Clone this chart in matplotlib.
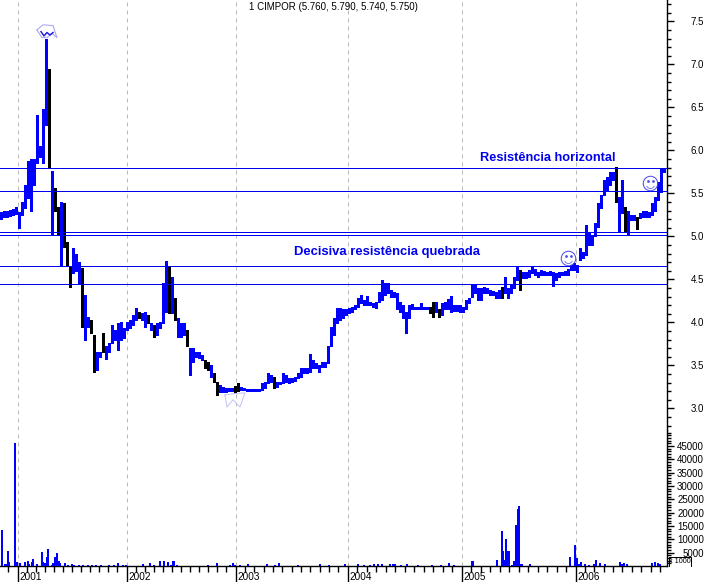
import numpy as np
import matplotlib
matplotlib.use("Agg")
import matplotlib.pyplot as plt
from matplotlib.path import Path

plt.rcParams['font.family'] = ['Liberation Sans', 'DejaVu Sans']

BLUE = '#0000f0'
title = '1 CIMPOR (5.760, 5.790, 5.740, 5.750)'
year_labels = ['2001', '2002', '2003', '2004', '2005', '2006']
year_sessions = [17.5, 126.5, 235.5, 347.5, 461.5, 575.5]
resistance_levels = [5.80, 5.53, 5.05, 5.01, 4.66, 4.44]

price_low = [
    5.20,5.23,5.22,5.24,5.25,5.26,5.10,5.25,5.33,5.45,
    5.30,5.60,5.85,5.92,5.85,6.30,5.80,5.03,5.30,5.03,
    4.65,4.88,4.65,4.41,4.57,4.60,4.46,3.95,3.80,3.94,
    3.88,3.42,3.45,3.60,3.65,3.57,3.65,3.76,3.80,3.68,
    3.80,3.82,3.91,3.93,3.97,4.03,4.05,4.03,3.95,3.99,
    3.91,3.83,3.85,3.93,3.99,4.12,4.11,4.11,4.03,3.83,
    3.83,3.85,3.72,3.39,3.54,3.60,3.59,3.56,3.47,3.45,
    3.37,3.31,3.16,3.19,3.19,3.19,3.20,3.20,3.18,3.20,
    3.21,3.21,3.20,3.20,3.20,3.20,3.20,3.21,3.24,3.30,
    3.31,3.24,3.25,3.28,3.30,3.31,3.30,3.31,3.32,3.35,
    3.37,3.41,3.41,3.42,3.47,3.47,3.42,3.48,3.48,3.53,
    3.72,3.85,3.99,4.03,4.05,4.09,4.11,4.12,4.15,4.18,
    4.22,4.20,4.20,4.20,4.18,4.17,4.24,4.26,4.32,4.34,
    4.30,4.30,4.15,4.12,4.05,3.88,4.05,4.15,4.15,4.15,
    4.16,4.15,4.15,4.11,4.06,4.12,4.06,4.08,4.15,4.15,
    4.12,4.13,4.13,4.12,4.12,4.15,4.22,4.30,4.34,4.26,
    4.26,4.34,4.34,4.32,4.32,4.28,4.28,4.28,4.34,4.28,
    4.34,4.40,4.49,4.38,4.52,4.52,4.53,4.57,4.55,4.53,
    4.55,4.55,4.55,4.55,4.42,4.49,4.53,4.55,4.55,4.55,
    4.61,4.61,4.58,4.73,4.75,4.78,4.90,4.90,5.00,5.11,
    5.33,5.48,5.54,5.60,5.66,5.40,5.05,5.27,5.05,5.03,
    5.19,5.19,5.08,5.21,5.22,5.22,5.22,5.25,5.30,5.42,
    5.52,5.75]
price_high = [
    5.28,5.30,5.29,5.31,5.32,5.34,5.28,5.40,5.60,5.88,
    5.90,5.90,6.41,6.05,6.48,7.30,6.95,5.76,5.56,5.34,
    5.40,5.39,4.93,4.65,4.87,4.80,4.70,4.63,4.32,4.06,
    4.03,3.85,3.65,3.65,3.88,3.72,3.76,3.97,3.91,3.99,
    4.00,3.93,4.00,4.03,4.09,4.17,4.12,4.11,4.12,4.09,
    3.99,3.97,3.99,4.00,4.46,4.71,4.65,4.53,4.28,4.05,
    3.99,3.99,3.91,3.70,3.70,3.65,3.65,3.62,3.56,3.54,
    3.50,3.41,3.31,3.27,3.25,3.24,3.24,3.24,3.26,3.30,
    3.25,3.24,3.23,3.23,3.23,3.22,3.22,3.30,3.31,3.41,
    3.39,3.37,3.31,3.31,3.41,3.39,3.35,3.35,3.37,3.41,
    3.47,3.47,3.47,3.63,3.56,3.53,3.50,3.54,3.54,3.72,
    3.95,4.05,4.17,4.17,4.15,4.15,4.17,4.18,4.20,4.28,
    4.32,4.26,4.31,4.24,4.22,4.24,4.35,4.49,4.46,4.46,
    4.38,4.35,4.34,4.24,4.20,4.12,4.20,4.21,4.18,4.18,
    4.22,4.18,4.18,4.18,4.24,4.24,4.15,4.22,4.24,4.27,
    4.31,4.20,4.20,4.20,4.18,4.26,4.28,4.44,4.44,4.40,
    4.40,4.41,4.40,4.38,4.36,4.35,4.38,4.41,4.53,4.40,
    4.44,4.53,4.66,4.61,4.58,4.58,4.61,4.66,4.62,4.58,
    4.61,4.60,4.58,4.60,4.58,4.57,4.58,4.58,4.60,4.62,
    4.67,4.69,4.67,4.87,4.82,5.13,5.04,5.00,5.16,5.39,
    5.48,5.66,5.69,5.75,5.75,5.81,5.46,5.66,5.34,5.30,
    5.25,5.25,5.22,5.27,5.30,5.30,5.28,5.39,5.46,5.63,
    5.79,5.80]
down_bars = [16,18,19,21,22,23,27,30,31,34,46,49,51,56,58,62,68,69,71,72,
             78,79,91,143,144,146,167,173,205,208,212]

vol_session = [2,5,6,8,9,15,17,20,25,28,29,32,33,37,42,43,45,46,47,48,52,53,55,57,59,60,65,68,72,74,
               79,83,88,92,96,101,109,114,118,123,126,143,150,154,160,164,168,171,173,174,177,208,217,230,233,
               235,240,248,267,275,279,298,320,329,345,358,364,370,374,378,382,390,393,395,401,407,418,432,441,449,454,
               472,473,497,502,503,505,506,508,509,512,514,516,518,519,520,522,530,570,575,577,579,581,585,589,594,596,600,605,
               620,622,624,627,652,655,658,660]
vol_value = [13500,750,750,5600,1600,46000,1600,1250,1500,2000,750,1500,2600,750,5400,1500,1250,1250,3500,6400,500,1000,3500,4900,1900,1250,1000,500,750,400,
             400,400,400,400,400,400,400,400,1100,400,400,750,1100,400,1900,1900,1500,500,1900,1900,400,400,1000,500,1000,
             500,400,600,600,300,1000,300,600,500,800,800,500,400,800,800,900,900,700,700,400,600,300,400,400,1000,300,
             2000,2000,2300,13300,5500,2200,10000,5500,5500,500,2000,15500,21300,22500,800,700,800,3500,8000,3000,800,1600,800,500,600,2300,1000,800,
             1500,800,1200,900,1000,1500,1000,800]

bear_session = [37,43,53,57,52,47,42,38,37]
bear_price = [7.40,7.46,7.45,7.31,7.36,7.31,7.31,7.38,7.40]
bear_inner_session = [41,44,47,50,53]
bear_inner_price = [7.38,7.33,7.37,7.34,7.37]
bull_session = [225,233,245,240,233,227,225]
bull_price = [3.155,3.17,3.18,3.015,3.10,3.015,3.155]
smile_session = [568, 650]
smile_price = [4.75, 5.62]

W, H = 707, 582
fig = plt.figure(figsize=(W/100, H/100), dpi=100, facecolor='white')
PX = 0.72


def box(x0, y0, x1, y1):
    return [x0/W, 1-y1/H, (x1-x0)/W, (y1-y0)/H]


ax = fig.add_axes(box(0, 0, 666.5, 430))
axv = fig.add_axes(box(0, 430, 666.5, 566))
for a in (ax, axv):
    a.set_xlim(0, 666.5)
    for s in ('left', 'top'):
        a.spines[s].set_visible(False)
    a.spines['right'].set_linewidth(1.0)
    a.yaxis.tick_right()
    a.set_xticks(year_sessions)
    a.grid(axis='x', color='#b8b8b8', linewidth=1*PX, linestyle=(0, (4, 4)))
    a.set_axisbelow(True)
ax.spines['bottom'].set_visible(False)
axv.spines['bottom'].set_linewidth(1.0)

ax.set_ylim(2.748, 7.748)
axv.set_ylim(0, 51000)

# price bars
sessions = np.arange(1, 1 + 3*len(price_low), 3)[:len(price_low)]
lows = np.array(price_low)
highs = np.array(price_high)
down = np.isin(np.arange(len(lows)), down_bars)
ax.vlines(sessions[~down], lows[~down], highs[~down], color='#0000ff',
          linewidth=2.6*PX, capstyle='butt', antialiased=False, zorder=3)
ax.vlines(sessions[down], lows[down], highs[down], color='black',
          linewidth=2.6*PX, capstyle='butt', antialiased=False, zorder=3)

# resistance lines
ax.hlines(resistance_levels, 0, 666.5, color=BLUE, linewidth=1*PX,
          antialiased=False, zorder=4)

# hand-drawn marks
ax.plot(bear_session, bear_price, color='#a0a0f5', lw=1*PX, zorder=5)
ax.plot(bear_inner_session, bear_inner_price, color='#2020e8', lw=1.5*PX, zorder=5)
ax.plot(bull_session, bull_price, color='#c4c4f5', lw=1*PX, zorder=5)
ax.plot(smile_session, smile_price, 'o', ms=14.5*PX, mfc='none', mec='#4a4ae8',
        mew=1*PX, zorder=5)
smile_s = np.array(smile_session)
smile_p = np.array(smile_price)
ax.plot(np.r_[smile_s-2.5, smile_s+2.5], np.r_[smile_p, smile_p]+0.02, 's', ms=1.2*PX,
        color='#4a4ae8', zorder=5)
ax.plot(smile_s, smile_p-0.01, marker=Path.arc(200, 340), ms=8*PX, mfc='none', mec='#4a4ae8',
        mew=0.7*PX, ls='none', zorder=5)

# volume
axv.bar(vol_session, vol_value, width=1.1, color='#0000ff', antialiased=False, zorder=3)

# price axis
ax.set_yticks(np.arange(3, 7.6, 0.5))
ax.set_yticks(np.arange(2.8, 7.75, 0.1), minor=True)
ax.set_yticklabels(['%.1f' % v for v in np.arange(3, 7.6, 0.5)], ha='right')
ax.tick_params(axis='y', which='major', length=6.5*PX, width=1, labelsize=7,
               pad=31*PX, right=True)
ax.tick_params(axis='y', which='minor', length=3.5*PX, width=1, right=True)
ax.tick_params(axis='x', length=0, labelbottom=False)

# volume axis
axv.set_yticks(np.arange(5000, 45001, 5000))
axv.set_yticks(np.arange(1000, 50001, 1000), minor=True)
axv.set_yticklabels([str(v) for v in range(5000, 45001, 5000)], ha='right')
axv.tick_params(axis='y', which='major', length=6.5*PX, width=1, labelsize=7,
                pad=31*PX, right=True)
axv.tick_params(axis='y', which='minor', length=3.5*PX, width=1, right=True)

# date axis
axv.tick_params(axis='x', which='major', length=16*PX, width=1, labelbottom=False)
months = np.r_[np.arange(17.5-9.1, 0, -9.1),
               *[np.linspace(a, b, 12, endpoint=False)[1:] for a, b in zip(year_sessions[:-1], year_sessions[1:])],
               np.arange(575.5+9.4, 666, 9.4)]
axv.set_xticks(months, minor=True)
axv.tick_params(axis='x', which='minor', length=5.5*PX, width=1)
for s, lab in zip(year_sessions, year_labels):
    axv.text(s+1.5, -0.102, lab, transform=axv.get_xaxis_transform(), fontsize=7.2,
             ha='left', va='baseline')

# texts
fig.text(333/W, 1-7.5/H, title, fontsize=7.0, ha='center', va='center')
fig.text(548/W, 1-158.5/H, 'Resistência horizontal',
         fontsize=9.2, fontweight='bold', color=BLUE, ha='center', va='center')
fig.text(387/W, 1-251.5/H, 'Decisiva resistência quebrada',
         fontsize=9.4, fontweight='bold', color=BLUE, ha='center', va='center')

# "x 1000" box
fig.add_artist(plt.Line2D([669/W, 669/W, 691/W, 691/W],
                          [1-566/H, 1-557/H, 1-557/H, 1-566/H], color='black', lw=1*PX))
fig.text(680/W, 1-561.5/H, 'x 1000', fontsize=5.2, ha='center', va='center')

fig.savefig('out.png', dpi=100)
